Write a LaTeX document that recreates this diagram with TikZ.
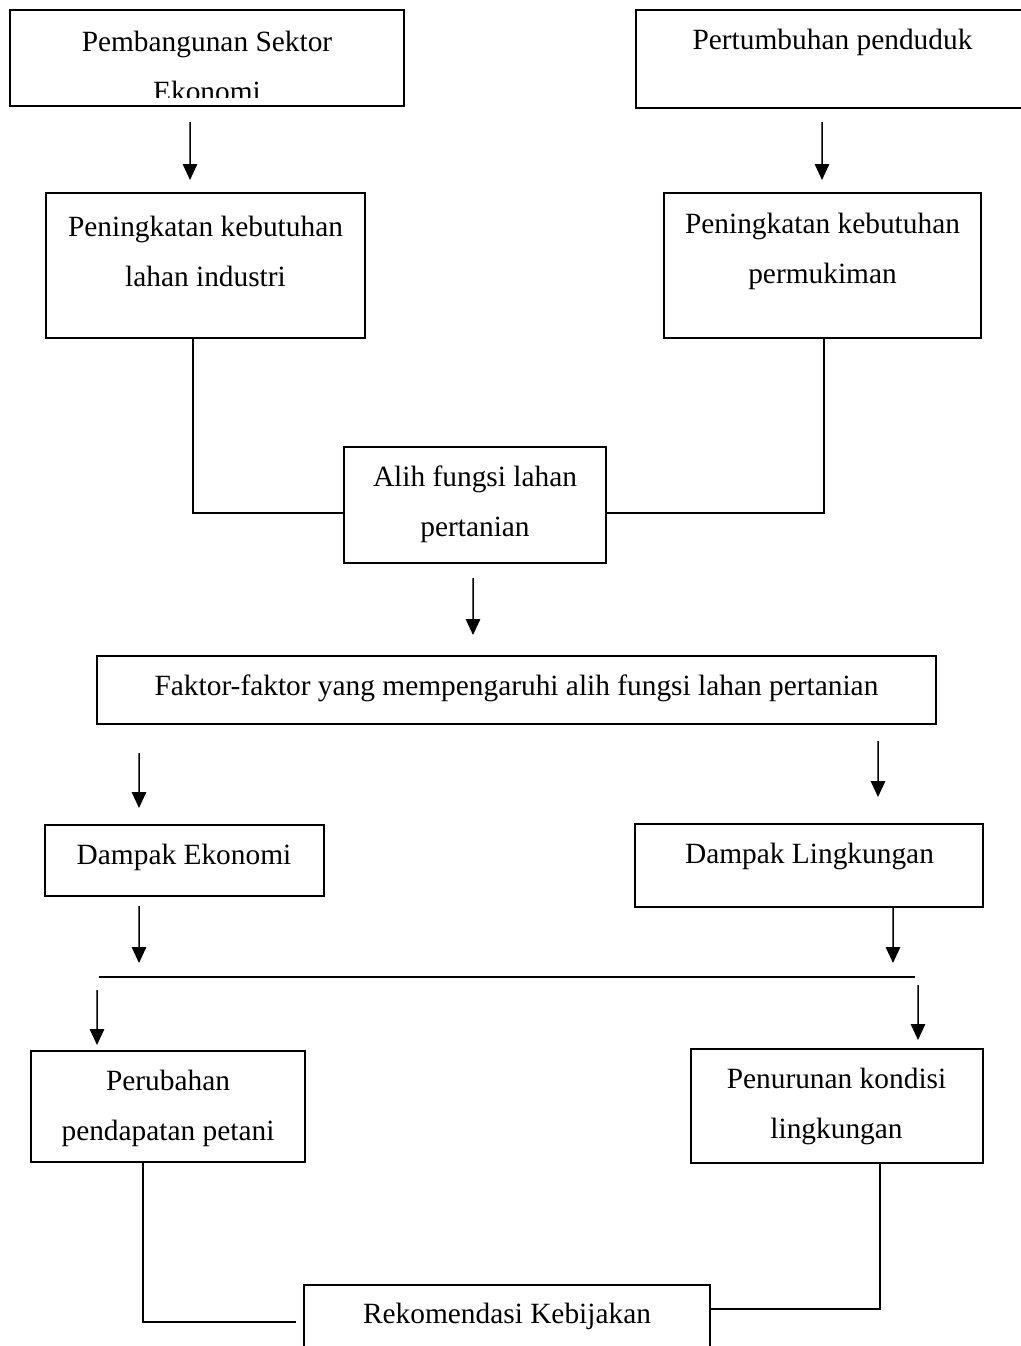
\documentclass[tikz,border=0pt]{standalone}
\usepackage{fontspec}
\setmainfont{Liberation Serif}
\usetikzlibrary{arrows.meta, calc}

\begin{document}
\begin{tikzpicture}[
    x=0.4pt, y=-0.4pt,
    every node/.style={font=\fontsize{11.75}{20}\selectfont},
    box/.style={rectangle, draw=black, line width=0.6pt, anchor=north west, inner sep=0pt, outer sep=0pt},
    txt/.style={align=center, inner sep=0pt},
    link/.style={line width=0.6pt},
    arr/.style={line width=0.6pt, -{Triangle[length=6.4pt, width=5.8pt]}},
]
\useasboundingbox (0,0) rectangle (1020,1346);
% boxes
\node[box, minimum width=157.6pt, minimum height=38.4pt] (eko) at (10,10) {};
\node[box, minimum width=168pt, minimum height=39.2pt] (pend) at (636,10) {};
\node[box, minimum width=127.6pt, minimum height=58pt] (ind) at (46,193) {};
\node[box, minimum width=126.8pt, minimum height=58pt] (pmk) at (664,193) {};
\node[box, minimum width=104.8pt, minimum height=46.4pt] (alih) at (344,447) {};
\node[box, minimum width=335.6pt, minimum height=27.2pt] (faktor) at (97,656) {};
\node[box, minimum width=111.6pt, minimum height=28.4pt] (dEko) at (45,825) {};
\node[box, minimum width=139.2pt, minimum height=33.2pt] (dLing) at (635,824) {};
\node[box, minimum width=109.6pt, minimum height=44.4pt] (perub) at (31,1051) {};
\node[box, minimum width=116.8pt, minimum height=45.6pt] (penur) at (691,1049) {};
\node[box, minimum width=162.4pt, minimum height=40pt] (rekom) at (304,1285) {};
% texts
\node[txt] (tEko) at (207,66) {Pembangunan Sektor\\Ekonomi};
\fill[white] (11,97.5) rectangle (403,105); % second line runs past the frame
\node[txt] (tPend) at (832.5,42) {Pertumbuhan penduduk};
\node[txt] (tInd) at (205.5,251) {Peningkatan kebutuhan\\lahan industri};
\node[txt] (tPmk) at (822.5,251) {Peningkatan kebutuhan\\permukiman};
\node[txt] (tAlih) at (475,504.5) {Alih fungsi lahan\\pertanian};
\node[txt] (tFaktor) at (516.5,688) {Faktor-faktor yang mempengaruhi alih fungsi lahan pertanian};
\node[txt] (tDEko) at (184,857) {Dampak Ekonomi};
\node[txt] (tDLing) at (809.5,856) {Dampak Lingkungan};
\node[txt] (tPerub) at (168,1108.5) {Perubahan\\pendapatan petani};
\node[txt] (tPenur) at (836.5,1106) {Penurunan kondisi\\lingkungan};
\node[txt] (tRekom) at (507,1316) {Rekomendasi Kebijakan};
% bar between impacts and outcomes
\coordinate (barL) at (99,977);
\coordinate (barR) at (915,977);
\draw[link] (barL) -- (barR);
% arrows
\draw[arr] ($(eko.south)+(-17,16)$) -- ($(ind.north)+(-15.5,-13)$);
\draw[arr] ($(pend.south)+(-24,14)$) -- ($(pmk.north)+(-0.5,-13)$);
\draw[arr] ($(alih.south)+(-2,15)$) -- ($(faktor.north)+(-43.5,-21)$);
\draw[arr] ($(faktor.south)+(-377.5,29)$) -- ($(dEko.north)+(-45.5,-17)$);
\draw[arr] ($(faktor.south)+(361.5,17)$) -- ($(dLing.north)+(69,-27)$);
\draw[arr] ($(dEko.south)+(-45.5,10)$) -- ($(barL)+(40,-14)$);
\draw[arr] ($(dLing.south)+(84,0)$) -- ($(barR)+(-22,-14)$);
\draw[arr] ($(barL)+(-2,13)$) -- ($(perub.north)+(-71,-6)$);
\draw[arr] ($(barR)+(3,8)$) -- ($(penur.north)+(81,-9)$);
% elbows
\draw[link] ($(ind.south)+(-12.5,0)$) |- ($(alih.west)+(0,8)$);
\draw[link] ($(pmk.south)+(1.5,0)$) |- ($(alih.east)+(0,8)$);
\draw[link] ($(perub.south)+(-25,0)$) |- ($(rekom.west)+(-8,-13)$);
\draw[link] ($(penur.south)+(43,0)$) |- ($(rekom.east)+(0,-26)$);
\end{tikzpicture}
\end{document}
